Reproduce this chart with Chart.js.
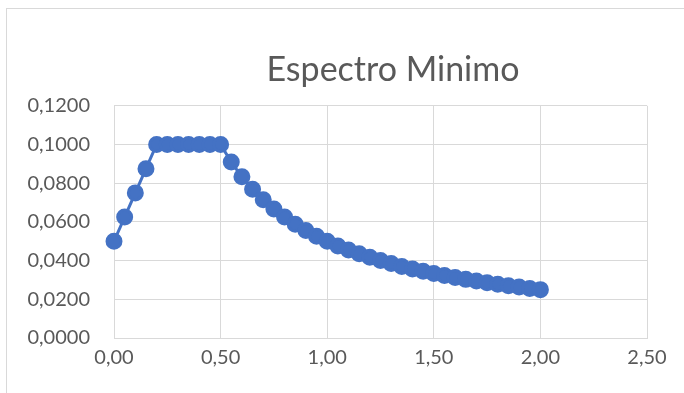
<!DOCTYPE html>
<html lang="es">
<head>
    <meta charset="UTF-8">
    <title>Espectro Minimo</title>
    <script src="https://cdn.jsdelivr.net/npm/chart.js"></script>
    <style>
        body {
            margin: 0;
            width: 684px;
            height: 393px;
            overflow: hidden;
            background: #ffffff;
        }
        .frame {
            position: absolute;
            left: 6px;
            top: 8px;
            width: 774px;
            height: 400px;
            border: 1px solid #d9d9d9;
            box-sizing: border-box;
        }
        .frame canvas {
            position: absolute;
            left: -1px;
            top: -1px;
        }
    </style>
</head>
<body>
    <div class="frame">
        <canvas id="chart" width="774" height="385"></canvas>
    </div>

    <script>
        // periodo (s)
        const periods = [
            0.00, 0.05, 0.10, 0.15, 0.20, 0.25, 0.30, 0.35, 0.40, 0.45,
            0.50, 0.55, 0.60, 0.65, 0.70, 0.75, 0.80, 0.85, 0.90, 0.95,
            1.00, 1.05, 1.10, 1.15, 1.20, 1.25, 1.30, 1.35, 1.40, 1.45,
            1.50, 1.55, 1.60, 1.65, 1.70, 1.75, 1.80, 1.85, 1.90, 1.95,
            2.00
        ];
        // aceleracion espectral
        const spectrum = [
            0.0500, 0.0625, 0.0750, 0.0875, 0.1000, 0.1000, 0.1000, 0.1000, 0.1000, 0.1000,
            0.1000, 0.0909, 0.0833, 0.0769, 0.0714, 0.0667, 0.0625, 0.0588, 0.0556, 0.0526,
            0.0500, 0.0476, 0.0455, 0.0435, 0.0417, 0.0400, 0.0385, 0.0370, 0.0357, 0.0345,
            0.0333, 0.0323, 0.0313, 0.0303, 0.0294, 0.0286, 0.0278, 0.0270, 0.0263, 0.0256,
            0.0250
        ];
        const xTicks = [0, 0.5, 1.0, 1.5, 2.0, 2.5];
        const yTicks = [0, 0.02, 0.04, 0.06, 0.08, 0.10, 0.12];

        const points = periods.map((p, i) => ({ x: p, y: spectrum[i] }));

        const textColor = '#595959';
        const gridColor = '#d9d9d9';
        const fontFamily = 'Lato, "Open Sans", sans-serif';

        new Chart(document.getElementById('chart'), {
            type: 'scatter',
            data: {
                datasets: [{
                    label: 'Espectro Minimo',
                    data: points,
                    showLine: true,
                    clip: false,
                    borderColor: '#4472c4',
                    backgroundColor: '#4472c4',
                    borderWidth: 3,
                    pointRadius: 7,
                    pointHoverRadius: 7
                }]
            },
            options: {
                responsive: false,
                animation: false,
                layout: { padding: 0 },
                plugins: {
                    legend: { display: false },
                    tooltip: { enabled: false },
                    title: {
                        display: true,
                        text: 'Espectro Minimo',
                        color: textColor,
                        font: { family: fontFamily, size: 34, weight: 'normal' },
                        padding: { top: 42, bottom: 15 }
                    }
                },
                scales: {
                    x: {
                        type: 'linear',
                        min: 0,
                        max: 2.5,
                        afterBuildTicks: s => { s.ticks = xTicks.map(v => ({ value: v })); },
                        afterFit: s => { s.height = 55; },
                        grid: { color: gridColor, drawTicks: false },
                        border: { color: gridColor },
                        ticks: {
                            padding: 8,
                            color: textColor,
                            font: { family: fontFamily, size: 20 },
                            maxRotation: 0,
                            callback: v => v.toFixed(2).replace('.', ',')
                        }
                    },
                    y: {
                        min: 0,
                        max: 0.12,
                        afterBuildTicks: s => { s.ticks = yTicks.map(v => ({ value: v })); },
                        afterFit: s => { s.width = 108; },
                        grid: { color: gridColor, drawTicks: false },
                        border: { color: gridColor },
                        ticks: {
                            padding: 24,
                            color: textColor,
                            font: { family: fontFamily, size: 20 },
                            callback: v => v.toFixed(4).replace('.', ',')
                        }
                    },
                    // empty space on the right side of the plot, like the cropped Excel frame
                    spacer: {
                        type: 'linear',
                        position: 'right',
                        afterFit: s => { s.width = 133; },
                        grid: { display: false },
                        border: { display: false },
                        ticks: { display: false }
                    }
                }
            }
        });
    </script>
</body>
</html>
